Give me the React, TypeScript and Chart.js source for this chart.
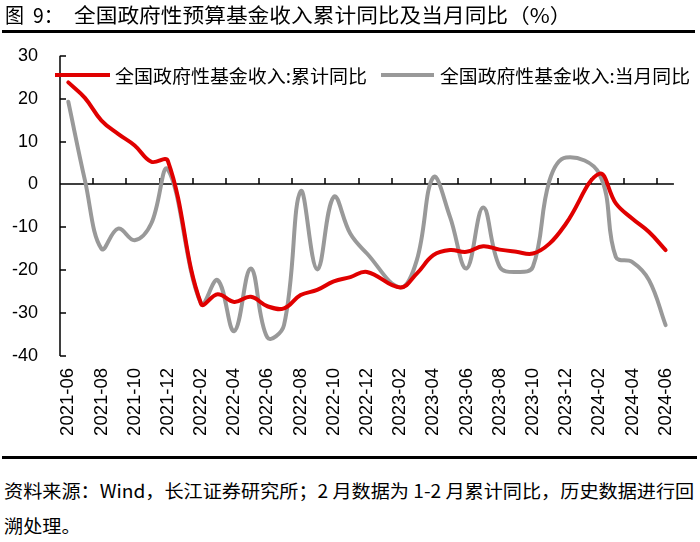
import React, { useEffect, useLayoutEffect, useRef, useState } from "react";
import { Chart, registerables } from "chart.js";

Chart.register(...registerables);

// ---------- data ----------
const MONTHS = [
  "2021-06", "2021-07", "2021-08", "2021-09", "2021-10", "2021-11", "2021-12",
  "2022-01", "2022-02", "2022-03", "2022-04", "2022-05", "2022-06", "2022-07",
  "2022-08", "2022-09", "2022-10", "2022-11", "2022-12",
  "2023-01", "2023-02", "2023-03", "2023-04", "2023-05", "2023-06", "2023-07",
  "2023-08", "2023-09", "2023-10", "2023-11", "2023-12",
  "2024-01", "2024-02", "2024-03", "2024-04", "2024-05", "2024-06",
];

// 累计同比 (red)
const CUMULATIVE: (number | null)[] = [
  23.8, 20.2, 14.9, 11.8, 9.1, 5.3, 5.5,
  null, -27.8, -25.6, -27.4, -26.2, -28.4, -28.9,
  -25.8, -24.6, -22.6, -21.6, -20.4,
  null, -24.0, -20.8, -16.5, -15.3, -15.7, -14.4,
  -15.2, -15.7, -16.1, -13.8, -9.1,
  null, 2.5, -4.4, -8.0, -11.1, -15.3,
];

// 当月同比 (gray)
const MONTHLY: (number | null)[] = [
  19.3, 1.0, -15.0, -10.3, -13.0, -9.1, 3.5,
  null, -27.8, -22.3, -34.2, -19.6, -35.7, -32.8,
  -1.6, -19.8, -2.9, -11.5, -16.1,
  null, -24.0, -17.7, 1.7, -7.5, -19.6, -5.4,
  -19.2, -20.4, -19.2, 0.9, 6.3,
  null, 2.5, -16.9, -18.1, -22.3, -32.8,
];

const Y_TICKS = [-40, -30, -20, -10, 0, 10, 20, 30];
const SERIES_NAMES = ["全国政府性基金收入:累计同比", "全国政府性基金收入:当月同比"];
const TITLE_PREFIX = "图";
const TITLE_NUMBER = "9：";
const TITLE_TEXT = "全国政府性预算基金收入累计同比及当月同比（%）";
const SOURCE_LINES = [
  "资料来源：Wind，长江证券研究所；2 月数据为 1-2 月累计同比，历史数据进行回",
  "溯处理。",
];

const RED = "#E00000";
const GRAY = "#999999";
const CANVAS_FONT = "'Liberation Sans', Arial, sans-serif";
const CJK_FONT = "'Noto Sans CJK SC', 'Noto Sans', sans-serif";

// ---------- helpers ----------
function useFitScale(target: number) {
  const ref = useRef<HTMLSpanElement | null>(null);
  const [sx, setSx] = useState(1);
  useLayoutEffect(() => {
    if (ref.current) {
      const w = ref.current.offsetWidth;
      if (w > 0) setSx(target / w);
    }
  }, [target]);
  return [ref, sx] as const;
}

function FitText(props: {
  text: string;
  left: number;
  top: number;
  size: number;
  width: number;
}) {
  const [ref, sx] = useFitScale(props.width);
  return (
    <span
      ref={ref}
      style={{
        position: "absolute",
        left: props.left,
        top: props.top,
        fontSize: props.size,
        lineHeight: `${props.size}px`,
        fontFamily: CJK_FONT,
        color: "#000",
        whiteSpace: "pre",
        transform: `scaleX(${sx})`,
        transformOrigin: "0 0",
      }}
    >
      {props.text}
    </span>
  );
}

function Footer() {
  const [ref, sx] = useFitScale(690);
  const base: React.CSSProperties = {
    position: "absolute",
    left: 4,
    fontSize: 18,
    lineHeight: "18px",
    fontFamily: CJK_FONT,
    color: "#000",
    whiteSpace: "pre",
    transform: `scaleX(${sx})`,
    transformOrigin: "0 0",
  };
  return (
    <>
      <span ref={ref} style={{ ...base, top: 481 }}>
        {SOURCE_LINES[0]}
      </span>
      <span style={{ ...base, top: 516 }}>{SOURCE_LINES[1]}</span>
    </>
  );
}

// axis decoration: y axis line with inward ticks, x axis line at 0 with upward ticks
const axisPlugin = {
  id: "axisDeco",
  beforeDatasetsDraw(chart: any) {
    const { ctx, chartArea, scales } = chart;
    const x = scales.x;
    const y = scales.y;
    ctx.save();
    ctx.strokeStyle = "#000";
    ctx.lineWidth = 1.5;
    const ax = Math.round(chartArea.left);
    ctx.beginPath();
    ctx.moveTo(ax, y.getPixelForValue(Y_TICKS[Y_TICKS.length - 1]));
    ctx.lineTo(ax, y.getPixelForValue(Y_TICKS[0]));
    for (const v of Y_TICKS) {
      const py = Math.round(y.getPixelForValue(v));
      ctx.moveTo(ax, py);
      ctx.lineTo(ax + 6, py);
    }
    const py0 = Math.round(y.getPixelForValue(0));
    ctx.moveTo(chartArea.left, py0);
    ctx.lineTo(chartArea.right, py0);
    for (let k = 2; k < MONTHS.length; k += 2) {
      const px = Math.round((x.getPixelForTick(k - 1) + x.getPixelForTick(k)) / 2);
      ctx.moveTo(px, py0);
      ctx.lineTo(px, py0 - 6);
    }
    ctx.stroke();
    ctx.restore();
  },
};

const CANVAS_TOP = 23;
const CANVAS_H = 427;

function LineChart() {
  const canvasRef = useRef<HTMLCanvasElement | null>(null);
  useEffect(() => {
    if (!canvasRef.current) return;
    const chart = new Chart(canvasRef.current, {
      type: "line",
      data: {
        labels: MONTHS,
        datasets: [
          {
            label: SERIES_NAMES[0],
            data: CUMULATIVE,
            borderColor: RED,
            backgroundColor: RED,
            borderWidth: 4,
            pointRadius: 0,
            tension: 0.4,
            spanGaps: true,
            borderCapStyle: "round",
            borderJoinStyle: "round",
          },
          {
            label: SERIES_NAMES[1],
            data: MONTHLY,
            borderColor: GRAY,
            backgroundColor: GRAY,
            borderWidth: 4,
            pointRadius: 0,
            tension: 0.4,
            spanGaps: true,
            borderCapStyle: "round",
            borderJoinStyle: "round",
          },
        ],
      },
      options: {
        responsive: false,
        animation: false,
        devicePixelRatio: 1,
        layout: { padding: { left: 0, right: 13, top: 15, bottom: 0 } },
        plugins: {
          legend: { display: false },
          tooltip: { enabled: false },
          title: { display: false },
        },
        scales: {
          x: {
            type: "category",
            offset: true,
            grid: { display: false, drawTicks: false },
            border: { display: false },
            ticks: {
              autoSkip: false,
              maxRotation: 90,
              minRotation: 90,
              padding: 12,
              color: "#000",
              font: { family: CANVAS_FONT, size: 18.5 },
              callback: (_v: any, idx: number) => (idx % 2 === 0 ? MONTHS[idx] : ""),
            },
            afterFit: (scale: any) => {
              scale.height = 94;
            },
          },
          y: {
            min: Y_TICKS[0],
            max: Y_TICKS[Y_TICKS.length - 1],
            grid: { display: false, drawTicks: false },
            border: { display: false },
            ticks: {
              stepSize: 10,
              padding: 22,
              color: "#000",
              font: { family: CANVAS_FONT, size: 18 },
            },
            afterFit: (scale: any) => {
              scale.width = 60;
            },
          },
        },
      },
      plugins: [axisPlugin],
    } as any);
    return () => chart.destroy();
  }, []);
  return (
    <canvas
      ref={canvasRef}
      width={700}
      height={CANVAS_H}
      style={{ position: "absolute", left: 0, top: CANVAS_TOP, width: 700, height: CANVAS_H }}
    />
  );
}

export default function App() {
  return (
    <div
      style={{
        position: "absolute",
        left: 0,
        top: 0,
        width: 700,
        height: 542,
        background: "#fff",
        overflow: "hidden",
      }}
    >
      <LineChart />

      <FitText text={TITLE_PREFIX} left={5} top={5} size={20} width={19} />
      <FitText text={TITLE_NUMBER} left={33} top={5} size={20} width={30} />
      <FitText text={TITLE_TEXT} left={74} top={5} size={20} width={497} />
      <div style={{ position: "absolute", left: 2, top: 30, width: 693, height: 3, background: "#000" }} />

      {/* legend */}
      <div style={{ position: "absolute", left: 55, top: 73, width: 55, height: 4, background: RED }} />
      <FitText text={SERIES_NAMES[0]} left={115} top={66} size={18} width={252} />
      <div style={{ position: "absolute", left: 381, top: 73, width: 53, height: 4, background: GRAY }} />
      <FitText text={SERIES_NAMES[1]} left={440} top={66} size={18} width={250} />

      <div style={{ position: "absolute", left: 2, top: 456, width: 695, height: 3, background: "#000" }} />
      <Footer />
    </div>
  );
}
